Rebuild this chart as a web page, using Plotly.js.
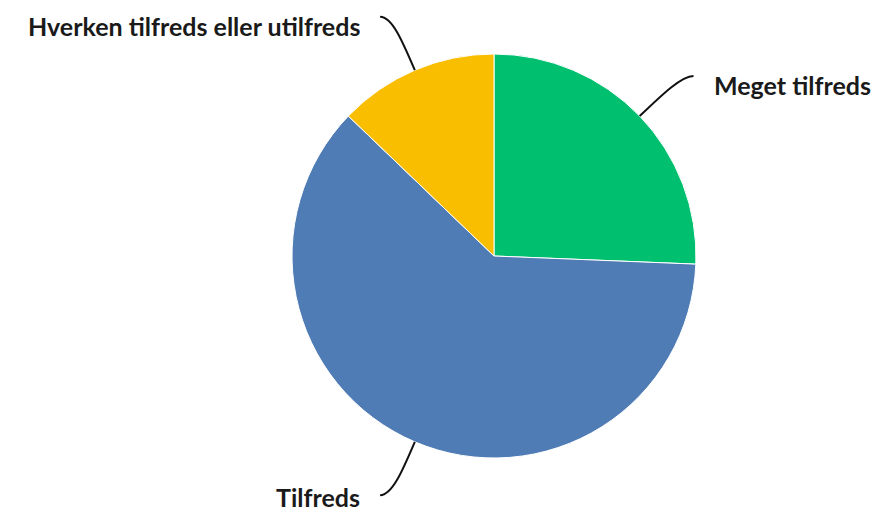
<!DOCTYPE html>
<html>
<head>
<meta charset="utf-8">
<script src="https://cdn.plot.ly/plotly-3.0.1.min.js"></script>
<style>html,body{margin:0;padding:0;background:#fff;}#chart{width:875px;height:513px;}</style>
</head>
<body>
<div id="chart"></div>
<script>
// Data
const categories = ["Meget tilfreds", "Tilfreds", "Hverken tilfreds eller utilfreds"];
const counts = [10, 24, 5];
const colors = ["#00BF6F", "#507CB6", "#F9BE00"];

// Geometry (pixels)
const W = 875, H = 513;
const cx = 494, cy = 256, R = 202;
const domX = [(cx - R) / W, (cx + R) / W];
const domY = [1 - (cy + R) / H, 1 - (cy - R) / H];

const px = x => x / W;
const py = y => 1 - y / H;

const total = counts.reduce((a, b) => a + b, 0);
const shapes = [];
const annotations = [];
let acc = 0;
counts.forEach((v, i) => {
  const mid = (acc + v / 2) / total * 2 * Math.PI; // clockwise from top
  acc += v;
  const dx = Math.sin(mid), dy = -Math.cos(mid);
  const side = dx >= 0 ? 1 : -1;
  const p0 = [cx + R * dx, cy + R * dy];
  const p1 = [p0[0] + 32 * dx, p0[1] + 32 * dy];
  const p3 = [p0[0] + 58 * dx + 12 * side, p0[1] + 58 * dy];
  const p2 = [p3[0] - 12 * side, p3[1]];
  const f = p => px(p[0]) + "," + py(p[1]);
  shapes.push({
    type: "path", xref: "paper", yref: "paper",
    path: "M" + f(p0) + " C" + f(p1) + " " + f(p2) + " " + f(p3),
    line: {color: "#111111", width: 2}
  });
  const ty = p3[1] + (dy < 0 ? 9 : 2);
  annotations.push({
    xref: "paper", yref: "paper",
    x: px(p3[0] + 18 * side), y: py(ty),
    xanchor: side > 0 ? "left" : "right", yanchor: "middle",
    text: "<b>" + categories[i] + "</b>",
    showarrow: false,
    font: {family: "Lato, sans-serif", size: 25, color: "#1a1a1a"}
  });
});

const data = [{
  type: "pie",
  labels: categories,
  values: counts,
  sort: false,
  direction: "clockwise",
  rotation: 0,
  marker: {colors: colors, line: {color: "#ffffff", width: 1}},
  textinfo: "none",
  hoverinfo: "label+percent",
  domain: {x: domX, y: domY},
  showlegend: false
}];

const layout = {
  width: W, height: H,
  margin: {l: 0, r: 0, t: 0, b: 0},
  paper_bgcolor: "#ffffff",
  showlegend: false,
  shapes: shapes,
  annotations: annotations
};

Plotly.newPlot("chart", data, layout, {displayModeBar: false, staticPlot: true});
</script>
</body>
</html>
